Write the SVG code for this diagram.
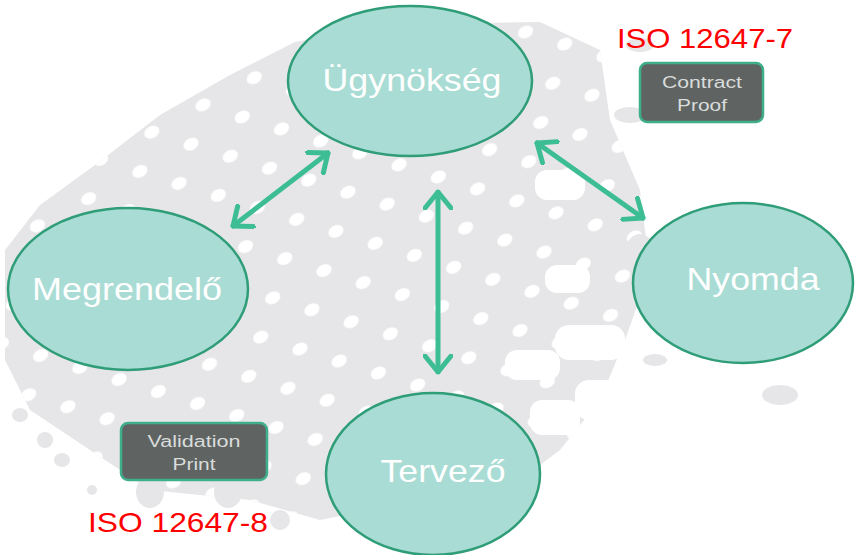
<svg xmlns="http://www.w3.org/2000/svg" width="855" height="555" viewBox="0 0 855 555">
  <defs>
    <style>
      .node ellipse { fill: #a9dcd4; stroke: #2f9d78; stroke-width: 2.5; }
      .label { font-family: "Liberation Sans", Arial, sans-serif; font-size: 32px; fill: #ffffff; text-anchor: middle; }
      .box rect { fill: #5f6463; stroke: #3fae8b; stroke-width: 2.5; }
      .boxtext { font-family: "Liberation Sans", Arial, sans-serif; font-size: 16px; fill: #d9dcdb; text-anchor: middle; }
      .iso { font-family: "Liberation Sans", Arial, sans-serif; font-size: 28px; fill: #ff0000; }
      .conn line { stroke: #3dbd94; stroke-width: 5; stroke-linecap: round; }
    </style>
    <marker id="head" viewBox="0 0 20 30" refX="18" refY="15" markerWidth="20" markerHeight="30" markerUnits="userSpaceOnUse" orient="auto-start-reverse">
      <path d="M2,2 L18,15 L2,28" fill="none" stroke="#3dbd94" stroke-width="5" stroke-linecap="round" stroke-linejoin="round"/>
    </marker>
    <pattern id="dots" width="58" height="58" patternUnits="userSpaceOnUse" patternTransform="rotate(-28)">
      <ellipse cx="14" cy="14" rx="8" ry="6" fill="#ffffff"/>
      <ellipse cx="43" cy="43" rx="8" ry="6" fill="#ffffff"/>
    </pattern>
  </defs>

  <rect width="855" height="555" fill="#ffffff"/>

  <g id="background">
    <path d="M40,205 L95,165 L160,115 L230,75 L295,42 L380,25 L540,22 L600,50 L610,120 L640,190 L650,270 L625,340 L600,400 L560,450 L520,480 L320,520 L250,500 L150,490 L90,450 L30,410 L5,360 L5,250 Z" fill="#e6e6e8"/>
    <path d="M40,205 L95,165 L160,115 L230,75 L295,42 L380,25 L540,22 L600,50 L610,120 L640,190 L650,270 L625,340 L600,400 L560,450 L520,480 L320,520 L250,500 L150,490 L90,450 L30,410 L5,360 L5,250 Z" fill="url(#dots)"/>
    <g fill="#ffffff">
      <rect x="535" y="170" width="50" height="30" rx="12"/>
      <rect x="545" y="265" width="45" height="28" rx="12"/>
      <rect x="555" y="325" width="70" height="35" rx="14"/>
      <rect x="505" y="350" width="55" height="30" rx="12"/>
      <rect x="575" y="380" width="60" height="40" rx="14"/>
      <rect x="530" y="400" width="50" height="35" rx="12"/>
    </g>
    <g fill="#e6e6e8">
      <ellipse cx="640" cy="45" rx="14" ry="7"/>
      <ellipse cx="630" cy="115" rx="16" ry="8"/>
      <ellipse cx="640" cy="250" rx="14" ry="16"/>
      <ellipse cx="655" cy="360" rx="12" ry="6"/>
      <ellipse cx="780" cy="395" rx="18" ry="10"/>
      <ellipse cx="20" cy="415" rx="8" ry="7"/>
      <ellipse cx="45" cy="440" rx="8" ry="8"/>
      <ellipse cx="62" cy="460" rx="8" ry="7"/>
      <ellipse cx="92" cy="490" rx="5" ry="5"/>
      <ellipse cx="150" cy="492" rx="14" ry="16"/>
      <ellipse cx="228" cy="492" rx="14" ry="16"/>
      <ellipse cx="280" cy="520" rx="10" ry="10"/>
    </g>
  </g>

  <g id="connectors" class="conn">
    <line x1="328" y1="153" x2="233" y2="226" marker-start="url(#head)" marker-end="url(#head)"/>
    <line x1="438" y1="192" x2="438" y2="372" marker-start="url(#head)" marker-end="url(#head)"/>
    <line x1="537" y1="143" x2="643" y2="218" marker-start="url(#head)" marker-end="url(#head)"/>
  </g>

  <g id="node-ugynokseg" class="node">
    <ellipse cx="410" cy="81" rx="122" ry="75"/>
    <text class="label" x="412" y="91" textLength="179" lengthAdjust="spacingAndGlyphs">Ügynökség</text>
  </g>
  <g id="node-megrendelo" class="node">
    <ellipse cx="128" cy="289" rx="120" ry="81"/>
    <text class="label" x="127" y="300" textLength="190" lengthAdjust="spacingAndGlyphs">Megrendelő</text>
  </g>
  <g id="node-nyomda" class="node">
    <ellipse cx="743" cy="283" rx="110" ry="80"/>
    <text class="label" x="753" y="290" textLength="133" lengthAdjust="spacingAndGlyphs">Nyomda</text>
  </g>
  <g id="node-tervezo" class="node">
    <ellipse cx="433" cy="474" rx="107" ry="81"/>
    <text class="label" x="443" y="482" textLength="125" lengthAdjust="spacingAndGlyphs">Tervező</text>
  </g>

  <g id="box-contract-proof" class="box">
    <rect x="640" y="63" width="123" height="59" rx="7"/>
    <text class="boxtext" x="702" y="88" textLength="80" lengthAdjust="spacingAndGlyphs">Contract</text>
    <text class="boxtext" x="702" y="111" textLength="50" lengthAdjust="spacingAndGlyphs">Proof</text>
  </g>
  <g id="box-validation-print" class="box">
    <rect x="121" y="423" width="146" height="57" rx="7"/>
    <text class="boxtext" x="194" y="447" textLength="93" lengthAdjust="spacingAndGlyphs">Validation</text>
    <text class="boxtext" x="194" y="470" textLength="43" lengthAdjust="spacingAndGlyphs">Print</text>
  </g>

  <text id="iso-7" class="iso" x="617" y="48" textLength="176" lengthAdjust="spacingAndGlyphs">ISO 12647-7</text>
  <text id="iso-8" class="iso" x="88" y="532" textLength="180" lengthAdjust="spacingAndGlyphs">ISO 12647-8</text>
</svg>
